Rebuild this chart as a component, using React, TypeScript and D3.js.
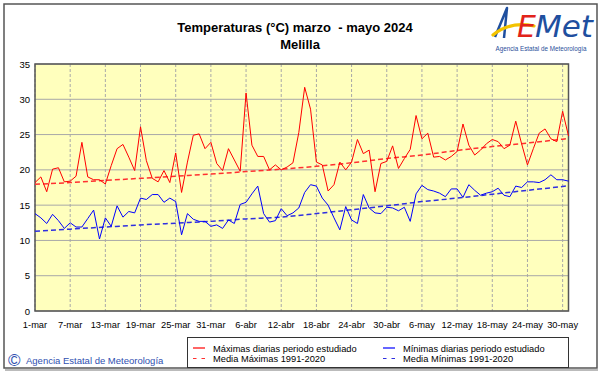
import * as d3 from 'd3';

// day index 0 = 1 marzo ... 91 = 31 mayo
const maxTemps = [
  18.2, 19.0, 16.9, 20.1, 20.3, 18.3, 18.4, 19.1, 23.9, 19.0, 18.6, 18.6, 18.0, 20.6, 23.0, 23.6,
  21.8, 19.9, 26.1, 21.3, 18.8, 18.3, 19.9, 18.2, 22.4, 16.8, 21.1, 24.9, 25.1, 23.0, 23.9, 20.9,
  19.9, 23.0, 21.4, 19.8, 30.9, 23.5, 21.9, 21.9, 20.0, 20.7, 20.0, 20.4, 21.0, 25.3, 31.7, 28.6,
  21.1, 20.7, 17.0, 17.9, 21.1, 20.0, 21.1, 24.3, 22.3, 22.8, 16.9, 20.9, 21.2, 23.4, 20.2, 21.6,
  22.9, 27.7, 24.4, 25.2, 21.8, 21.9, 21.4, 21.9, 22.6, 26.5, 23.5, 22.1, 22.8, 23.7, 24.3, 24.0,
  23.0, 23.5, 26.9, 23.7, 20.7, 23.0, 25.2, 25.8, 24.4, 24.0, 28.3, 24.8,
];

const minTemps = [
  13.8, 13.2, 12.4, 13.7, 12.8, 11.7, 12.5, 11.9, 11.9, 13.1, 14.3, 10.2, 13.2, 12.0, 14.9, 13.3,
  14.1, 13.9, 16.0, 15.8, 16.5, 16.5, 15.4, 16.0, 15.5, 10.8, 13.8, 13.0, 12.7, 12.7, 12.0, 12.2,
  11.7, 12.9, 12.4, 15.1, 15.4, 16.6, 17.7, 13.8, 12.6, 12.8, 14.5, 13.5, 13.9, 14.6, 16.8, 17.9,
  17.7, 16.0, 15.0, 13.2, 11.5, 14.8, 12.9, 12.4, 16.5, 14.6, 13.9, 13.8, 14.7, 14.6, 14.2, 14.7,
  12.7, 16.6, 17.8, 17.2, 17.0, 16.7, 16.2, 17.3, 17.3, 16.1, 17.9, 17.1, 16.4, 16.7, 16.9, 17.4,
  16.4, 16.2, 17.7, 17.5, 18.3, 18.3, 18.2, 18.6, 19.3, 18.6, 18.6, 18.4,
];

// climatology 1991-2020, read at the tick days
const meanDays = [0, 6, 12, 18, 24, 30, 36, 42, 48, 54, 60, 66, 72, 78, 84, 90, 91];
const meanMax = [17.95, 18.2, 18.5, 18.8, 19.1, 19.4, 19.75, 20.1, 20.5, 21.0, 21.6, 22.1, 22.75, 23.3, 23.8, 24.35, 24.45];
const meanMin = [11.3, 11.6, 11.9, 12.2, 12.45, 12.7, 13.05, 13.3, 13.8, 14.35, 14.9, 15.5, 16.0, 16.55, 17.1, 17.65, 17.75];

const tickDays = [0, 6, 12, 18, 24, 30, 36, 42, 48, 54, 60, 66, 72, 78, 84, 90];
const tickLabels = [
  '1-mar', '7-mar', '13-mar', '19-mar', '25-mar', '31-mar', '6-abr', '12-abr',
  '18-abr', '24-abr', '30-abr', '6-may', '12-may', '18-may', '24-may', '30-may',
];
const yTicks = [0, 5, 10, 15, 20, 25, 30, 35];

const font = 'Arial, "Liberation Sans", sans-serif';

export default function App() {
  const width = 601;
  const height = 374;
  const left = 35;
  const right = 568.5;
  const top = 64;
  const bottom = 311;

  const x = d3.scaleLinear().domain([0, 91]).range([left, right]);
  const y = d3.scaleLinear().domain([0, 35]).range([bottom, top]);

  const line = d3
    .line<number>()
    .x((_, i) => x(i))
    .y((d) => y(d));

  const meanLine = d3
    .line<number>()
    .x((_, i) => x(meanDays[i]))
    .y((d) => y(d))
    .curve(d3.curveMonotoneX);

  return (
    <svg
      width={width}
      height={height}
      style={{ position: 'absolute', left: 0, top: 0, background: '#fff' }}
      fontFamily={font}
    >
      {/* outer frame */}
      <rect x={4} y={4} width={593} height={364} fill="#fff" stroke="#555" strokeWidth={1.5} />
      <line x1={5} x2={598} y1={370} y2={370} stroke="#bbb" strokeWidth={2} />

      {/* title */}
      <text x={295} y={32} textAnchor="middle" fontSize={13} fontWeight="bold" fill="#000">
        {'Temperaturas (°C) marzo \u00a0- mayo 2024'}
      </text>
      <text x={300} y={49} textAnchor="middle" fontSize={13} fontWeight="bold" fill="#000">
        Melilla
      </text>

      {/* logo */}
      <g>
        <path d="M495,37 L507,8 L504,38" fill="none" stroke="#1f4f9f" strokeWidth={2.5} strokeLinejoin="round" />
        <path d="M493,35 Q510,21 534,26" fill="none" stroke="#f3c300" strokeWidth={3.2} strokeLinecap="round" />
        <text x={517} y={37} fontSize={30} fontStyle="italic" fill="#e2231a" fontFamily="DejaVu Sans">
          E
        </text>
        <text x={535} y={37} fontSize={30} fontStyle="italic" fill="#1f4f9f" fontFamily="DejaVu Sans" textLength={58} lengthAdjust="spacingAndGlyphs">
          Met
        </text>
        <text x={541} y={51} textAnchor="middle" fontSize={6.3} fill="#2a4f9a">
          Agencia Estatal de Meteorología
        </text>
      </g>

      {/* plot area */}
      <rect x={left} y={top} width={right - left} height={bottom - top} fill="#ffffbd" />
      {yTicks.map((t) => (
        <line key={'h' + t} x1={left} x2={right} y1={y(t)} y2={y(t)} stroke="#a8a8a8" strokeWidth={1} />
      ))}
      {tickDays.map((d) => (
        <line key={'v' + d} x1={x(d)} x2={x(d)} y1={top} y2={bottom} stroke="#a8a8a8" strokeWidth={1} strokeDasharray="3,2" />
      ))}
      <rect x={left} y={top} width={right - left} height={bottom - top} fill="none" stroke="#555" strokeWidth={1.5} />

      {/* mean lines */}
      <path d={meanLine(meanMax) ?? ''} fill="none" stroke="#ff3030" strokeWidth={1.5} strokeDasharray="5,3" />
      <path d={meanLine(meanMin) ?? ''} fill="none" stroke="#2f2fe0" strokeWidth={1.5} strokeDasharray="5,3" />

      {/* daily lines */}
      <path d={line(maxTemps) ?? ''} fill="none" stroke="#ff0000" strokeWidth={1} />
      <path d={line(minTemps) ?? ''} fill="none" stroke="#0000ff" strokeWidth={1} />

      {/* axes labels */}
      {yTicks.map((t) => (
        <text key={'yl' + t} x={30} y={y(t) + 3.5} textAnchor="end" fontSize={9.5} fill="#000">
          {t}
        </text>
      ))}
      {tickDays.map((d, i) => (
        <text key={'xl' + d} x={x(d)} y={327.5} textAnchor="middle" fontSize={9.3} fill="#000">
          {tickLabels[i]}
        </text>
      ))}

      {/* legend */}
      <rect x={187.5} y={337.5} width={381} height={30} fill="#fff" stroke="#333" strokeWidth={1} />
      <line x1={193} x2={205} y1={348} y2={348} stroke="#ff0000" strokeWidth={1.2} />
      <line x1={193} x2={205} y1={358.5} y2={358.5} stroke="#ff3030" strokeWidth={1.2} strokeDasharray="3.5,5" />
      <line x1={383} x2={395} y1={348} y2={348} stroke="#0000ff" strokeWidth={1.2} />
      <line x1={383} x2={395} y1={358.5} y2={358.5} stroke="#2f2fe0" strokeWidth={1.2} strokeDasharray="3.5,5" />
      <text x={213} y={351.5} fontSize={9.3} fill="#000">Máximas diarias periodo estudiado</text>
      <text x={213} y={362} fontSize={9.3} fill="#000">Media Máximas 1991-2020</text>
      <text x={403} y={351.5} fontSize={9.3} fill="#000">Mínimas diarias periodo estudiado</text>
      <text x={403} y={362} fontSize={9.3} fill="#000">Media Mínimas 1991-2020</text>

      {/* copyright */}
      <text x={8} y={366} fontSize={17} fill="#2f4fb0">©</text>
      <text x={26} y={364} fontSize={9.5} fill="#2f4fb0">Agencia Estatal de Meteorología</text>
    </svg>
  );
}
